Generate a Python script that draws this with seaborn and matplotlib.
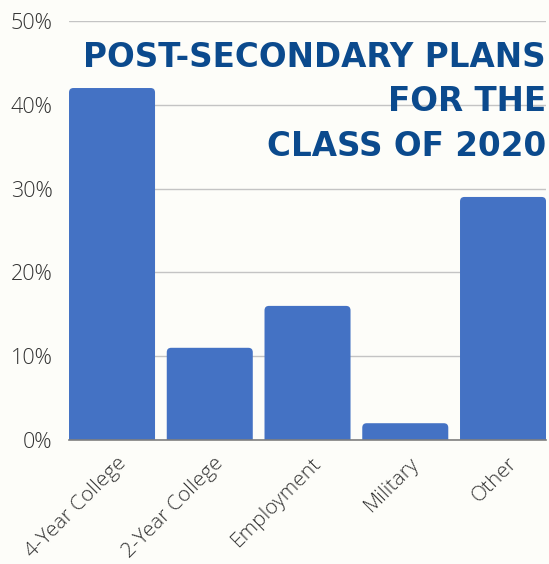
import matplotlib.pyplot as plt
import seaborn as sns
import pandas as pd
from matplotlib.patches import FancyBboxPatch
from matplotlib.ticker import PercentFormatter
from matplotlib.transforms import ScaledTranslation

# values
plans = ['4-Year College', '2-Year College', 'Employment', 'Military', 'Other']
share = [0.42, 0.11, 0.16, 0.02, 0.29]
y_ticks = [0.0, 0.1, 0.2, 0.3, 0.4, 0.5]
title_lines = ['POST-SECONDARY PLANS', 'FOR THE', 'CLASS OF 2020']

df = pd.DataFrame({'Plan': plans, 'Share': share})

bg = '#fdfdf9'
blue = '#4472c4'
navy = '#0b4a8d'

sns.set_theme(style='whitegrid')
plt.rcParams['font.family'] = ['Open Sans', 'DejaVu Sans']

fig = plt.figure(figsize=(5.49, 5.64), dpi=100, facecolor=bg)
ax = fig.add_axes([0.1257, 0.2199, 0.8689, 0.7429], facecolor=bg)

sns.barplot(data=df, x='Plan', y='Share', color=blue, width=0.88,
            saturation=1, ax=ax, zorder=2)

# swap plain bars for ones with rounded tops
# (box starts below zero so the bottom corners get clipped by the axes)
rx = 0.045
aspect = 0.12
for bar in list(ax.patches):
    x, y0 = bar.get_x(), bar.get_y()
    w, h = bar.get_width(), bar.get_height()
    bar.set_visible(False)
    ax.add_patch(FancyBboxPatch((x, y0 - 0.02), w, h + 0.02,
                                boxstyle=f'round,pad=0,rounding_size={rx}',
                                mutation_aspect=aspect,
                                facecolor=blue, edgecolor='none', zorder=2))

ax.set_xlim(-0.44, 4.44)
ax.set_ylim(0, 0.5)
ax.set_yticks(y_ticks)
ax.yaxis.set_major_formatter(PercentFormatter(1.0, decimals=0))
ax.grid(axis='y', color='#c4c4c4', linewidth=1)
ax.grid(axis='x', visible=False)
for side in ['left', 'right', 'top']:
    ax.spines[side].set_visible(False)
ax.spines['bottom'].set_color('#7f7f7f')
ax.spines['bottom'].set_linewidth(1.2)
ax.spines['bottom'].set_zorder(3)

ax.set_xlabel('')
ax.set_ylabel('')
ax.tick_params(axis='both', length=0, labelcolor='#333333')
ax.tick_params(axis='y', pad=12, labelsize=15.5)
ax.tick_params(axis='x', pad=15, labelsize=15)
for lab in ax.get_yticklabels():
    lab.set_fontweight('light')
shift = ScaledTranslation(0.11, 0, fig.dpi_scale_trans)
for lab in ax.get_xticklabels():
    lab.set_rotation(45)
    lab.set_ha('right')
    lab.set_va('center')
    lab.set_rotation_mode('anchor')
    lab.set_fontweight('light')
    lab.set_transform(lab.get_transform() + shift)

# title, right aligned, one line at a time
for line, yb in zip(title_lines, [0.8812, 0.8032, 0.7234]):
    fig.text(0.9945, yb, line, ha='right', va='baseline', color=navy,
             fontsize=23.5, fontweight='bold', family=['DejaVu Sans'])

plt.savefig('out.png', dpi=100, facecolor=bg)
plt.close()
